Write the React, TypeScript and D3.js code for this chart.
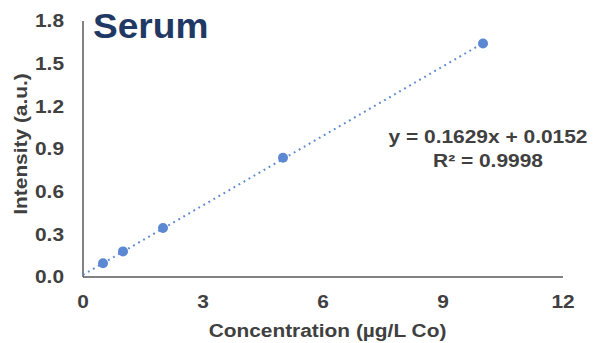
import React from "react";
import * as d3 from "d3";

const concentrations = [0.5, 1, 2, 5, 10];
const intensities = [0.097, 0.18, 0.345, 0.838, 1.642];
const xTicks = [0, 3, 6, 9, 12];
const yTicks = [0, 0.3, 0.6, 0.9, 1.2, 1.5, 1.8];
const slope = 0.1629;
const intercept = 0.0152;
const trendRange = [0, 10];
const chartTitle = "Serum";
const xTitle = "Concentration (µg/L Co)";
const yTitle = "Intensity (a.u.)";
const eqLines = ["y = 0.1629x + 0.0152", "R² = 0.9998"];

export default function App() {
  const W = 595, H = 343;
  const x = d3.scaleLinear().domain([0, 12]).range([83, 563]);
  const y = d3.scaleLinear().domain([0, 1.8]).range([277, 21]);
  const font = "'Liberation Sans', Arial, sans-serif";
  const txt = "#404040";
  const blue = "#5B87D3";
  const sx = 1.16;
  const trend = d3.line<number>().x((d) => x(d)).y((d) => y(slope * d + intercept));
  return (
    <svg width={W} height={H} style={{ position: "absolute", left: 0, top: 0 }} fontFamily={font}>
      <rect width={W} height={H} fill="#fff" />
      <line x1={x(0)} x2={x(0)} y1={y(1.8)} y2={y(0)} stroke="#404040" strokeWidth={1.3} />
      <line x1={x(0)} x2={x(12)} y1={y(0)} y2={y(0)} stroke="#595959" strokeWidth={1.3} />
      {yTicks.map((t) => (
        <text key={"y" + t} transform={`translate(64,${y(t)}) scale(${sx},1)`} dy="0.36em" textAnchor="end" fontSize={18} fontWeight="bold" fill={txt}>
          {t.toFixed(1)}
        </text>
      ))}
      {xTicks.map((t) => (
        <text key={"x" + t} transform={`translate(${x(t)},308) scale(${sx},1)`} textAnchor="middle" fontSize={18} fontWeight="bold" fill={txt}>
          {t}
        </text>
      ))}
      <text transform={`translate(327.5,337) scale(${sx},1)`} textAnchor="middle" fontSize={18} fontWeight="bold" fill={txt}>{xTitle}</text>
      <text transform={`translate(27,144) rotate(-90) scale(${sx},1)`} textAnchor="middle" fontSize={18} fontWeight="bold" fill={txt}>{yTitle}</text>
      <text transform={`translate(93,38) scale(1.06,1)`} fontSize={35} fontWeight="bold" fill="#1F3864">{chartTitle}</text>
      <path d={trend(trendRange) || ""} fill="none" stroke={blue} strokeWidth={2} strokeDasharray="1.8 4" strokeLinecap="butt" />
      {concentrations.map((c, i) => (
        <circle key={i} cx={x(c)} cy={y(intensities[i])} r={5} fill={blue} />
      ))}
      {eqLines.map((l, i) => (
        <text key={i} transform={`translate(488,${143 + i * 24}) scale(1.19,1)`} textAnchor="middle" fontSize={17.6} fontWeight="bold" fill={txt}>{l}</text>
      ))}
    </svg>
  );
}
